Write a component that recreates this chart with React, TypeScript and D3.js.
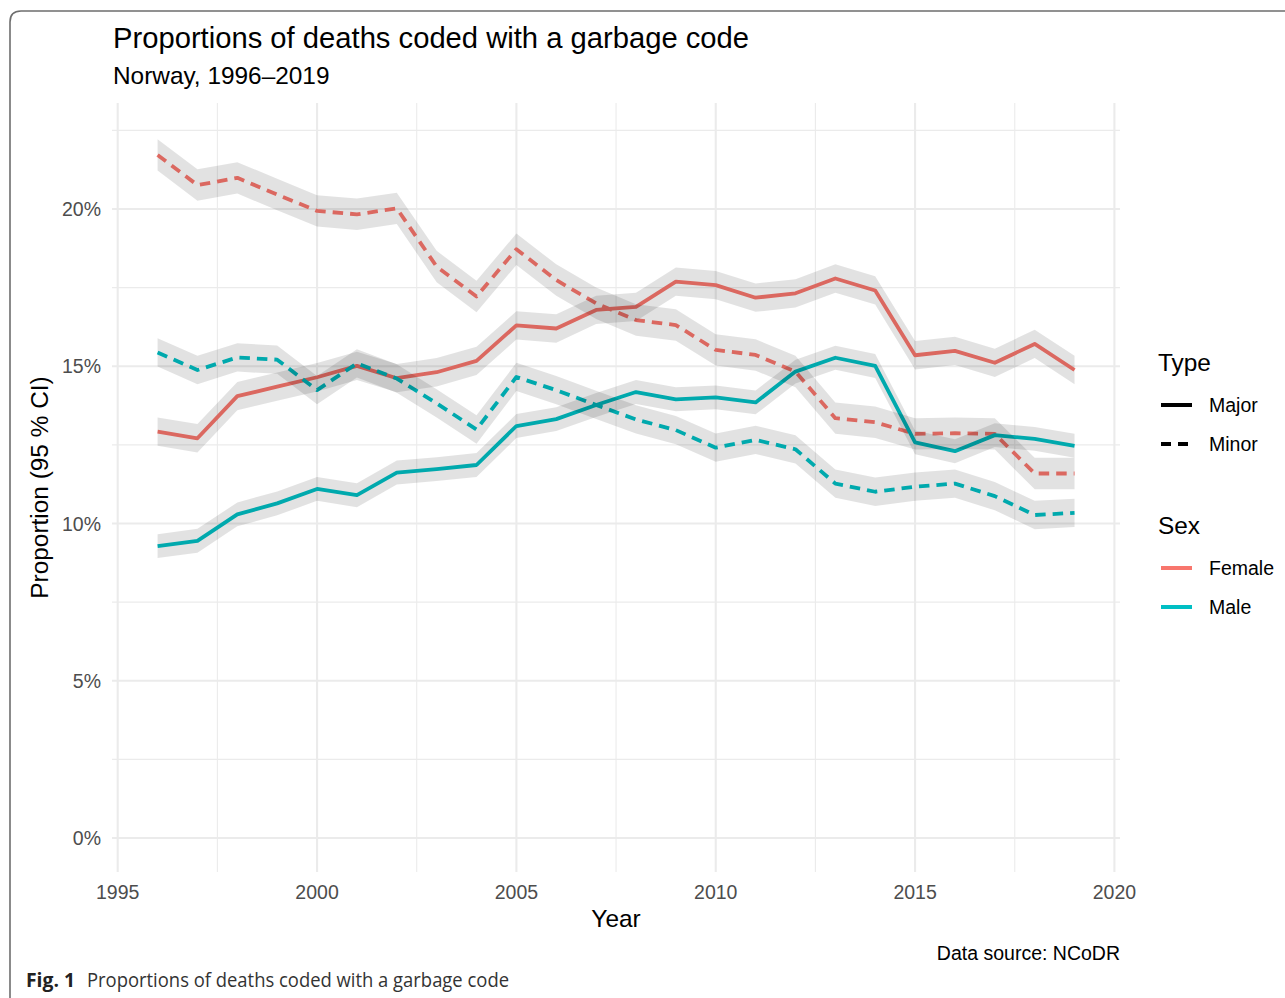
import React from "react";
import * as d3 from "d3";

const years = [1996, 1997, 1998, 1999, 2000, 2001, 2002, 2003, 2004, 2005, 2006, 2007, 2008, 2009, 2010, 2011, 2012, 2013, 2014, 2015, 2016, 2017, 2018, 2019];
const femaleMajor = [12.92, 12.71, 14.05, 14.35, 14.65, 15.01, 14.62, 14.81, 15.17, 16.30, 16.20, 16.79, 16.89, 17.69, 17.58, 17.18, 17.32, 17.79, 17.41, 15.35, 15.49, 15.11, 15.71, 14.88];
const femaleMinor = [21.72, 20.76, 20.99, 20.46, 19.94, 19.83, 20.02, 18.17, 17.22, 18.72, 17.74, 17.0, 16.47, 16.31, 15.52, 15.36, 14.83, 13.35, 13.22, 12.85, 12.87, 12.85, 11.59, 11.59];
const maleMajor = [9.28, 9.45, 10.29, 10.64, 11.10, 10.90, 11.62, 11.73, 11.86, 13.10, 13.32, 13.77, 14.18, 13.95, 14.01, 13.85, 14.83, 15.27, 15.01, 12.58, 12.30, 12.81, 12.69, 12.47];
const maleMinor = [15.44, 14.88, 15.28, 15.21, 14.24, 15.09, 14.61, 13.82, 12.99, 14.66, 14.24, 13.77, 13.31, 12.97, 12.41, 12.66, 12.36, 11.27, 11.01, 11.17, 11.27, 10.87, 10.27, 10.34];
// approximate 95% CI half-widths (percentage points) per series
const ciHalf = { femaleMajor: 0.45, femaleMinor: 0.5, maleMajor: 0.38, maleMinor: 0.45 };

const xTicks = [1995, 2000, 2005, 2010, 2015, 2020];
const xMinor = [1997.5, 2002.5, 2007.5, 2012.5, 2017.5];
const yTicks = [0, 5, 10, 15, 20];
const yMinor = [2.5, 7.5, 12.5, 17.5, 22.5];

const typeLabels = ["Major", "Minor"];
const sexLabels = ["Female", "Male"];
const sexColors = { Female: "#F8766D", Male: "#00BFC4" };

const series = [
  { key: "femaleMajor", sex: "Female", type: "Major", values: femaleMajor },
  { key: "femaleMinor", sex: "Female", type: "Minor", values: femaleMinor },
  { key: "maleMajor", sex: "Male", type: "Major", values: maleMajor },
  { key: "maleMinor", sex: "Male", type: "Minor", values: maleMinor },
];

const FONT = "'Liberation Sans', Arial, Helvetica, sans-serif";

export default function App() {
  const W = 1285, H = 998;
  const panel = { left: 112, right: 1120, top: 103, bottom: 872 };
  const x = d3.scaleLinear().domain([1994.857, 2020.14]).range([panel.left, panel.right]);
  const y = d3.scaleLinear().domain([-1.08, 23.37]).range([panel.bottom, panel.top]);

  const lineGen = d3.line<number>().x((_, i) => x(years[i])).y((d) => y(d));
  const areaGen = (hw: number) =>
    d3.area<number>().x((_, i) => x(years[i])).y0((d) => y(d - hw)).y1((d) => y(d + hw));

  const dash = "10.5,7";

  return (
    <div style={{ position: "absolute", left: 0, top: 0 }}>
      <svg width={W} height={H} style={{ display: "block", background: "#fff" }}>
        {/* figure frame */}
        <path d="M10,998 L10,22 Q10,11 21,11 L1285,11" fill="none" stroke="#6e6e6e" strokeWidth={1.6} />

        {/* grid */}
        {yMinor.map((v) => (
          <line key={"ym" + v} x1={panel.left} x2={panel.right} y1={y(v)} y2={y(v)} stroke="#ebebeb" strokeWidth={1.1} />
        ))}
        {xMinor.map((v) => (
          <line key={"xm" + v} x1={x(v)} x2={x(v)} y1={panel.top} y2={panel.bottom} stroke="#ebebeb" strokeWidth={1.1} />
        ))}
        {yTicks.map((v) => (
          <line key={"yM" + v} x1={panel.left} x2={panel.right} y1={y(v)} y2={y(v)} stroke="#ebebeb" strokeWidth={2.1} />
        ))}
        {xTicks.map((v) => (
          <line key={"xM" + v} x1={x(v)} x2={x(v)} y1={panel.top} y2={panel.bottom} stroke="#ebebeb" strokeWidth={2.1} />
        ))}

        {/* lines */}
        {series.map((s) => (
          <path
            key={"l" + s.key}
            d={lineGen(s.values) || ""}
            fill="none"
            stroke={sexColors[s.sex]}
            strokeWidth={3.8}
            strokeDasharray={s.type === "Minor" ? dash : undefined}
            strokeLinejoin="round"
          />
        ))}
        {/* CI ribbons */}
        {series.map((s) => (
          <path key={"r" + s.key} d={areaGen(ciHalf[s.key])(s.values) || ""} fill="#000" fillOpacity={0.115} stroke="none" />
        ))}

        {/* axes labels */}
        {xTicks.map((v) => (
          <text key={"xt" + v} x={x(v)} y={899} textAnchor="middle" fontFamily={FONT} fontSize={19.5} fill="#4d4d4d">
            {v}
          </text>
        ))}
        {yTicks.map((v) => (
          <text key={"yt" + v} x={101} y={y(v) + 7} textAnchor="end" fontFamily={FONT} fontSize={19.5} fill="#4d4d4d">
            {v + "%"}
          </text>
        ))}
        <text x={(panel.left + panel.right) / 2} y={927} textAnchor="middle" fontFamily={FONT} fontSize={24.4} fill="#000">
          Year
        </text>
        <text
          transform={`translate(48,${(panel.top + panel.bottom) / 2}) rotate(-90)`}
          textAnchor="middle"
          fontFamily={FONT}
          fontSize={24.4}
          fill="#000"
        >
          Proportion (95 % CI)
        </text>

        {/* titles */}
        <text x={113} y={48} fontFamily={FONT} fontSize={29.2} fill="#000">
          Proportions of deaths coded with a garbage code
        </text>
        <text x={113} y={84} fontFamily={FONT} fontSize={24.4} fill="#000">
          Norway, 1996–2019
        </text>
        <text x={1120} y={960} textAnchor="end" fontFamily={FONT} fontSize={19.5} fill="#000">
          Data source: NCoDR
        </text>

        {/* legend: Type */}
        <text x={1158} y={371} fontFamily={FONT} fontSize={24.4} fill="#000">Type</text>
        {typeLabels.map((t, i) => {
          const cy = 405 + i * 39;
          return (
            <g key={"lt" + t}>
              <line x1={1161} x2={1192} y1={cy} y2={cy} stroke="#000" strokeWidth={4}
                strokeDasharray={t === "Minor" ? "10,7" : undefined} />
              <text x={1209} y={cy + 7} fontFamily={FONT} fontSize={19.5} fill="#000">{t}</text>
            </g>
          );
        })}
        {/* legend: Sex */}
        <text x={1158} y={534} fontFamily={FONT} fontSize={24.4} fill="#000">Sex</text>
        {sexLabels.map((s, i) => {
          const cy = 568 + i * 39;
          return (
            <g key={"ls" + s}>
              <line x1={1161} x2={1192} y1={cy} y2={cy} stroke={sexColors[s]} strokeWidth={4} />
              <text x={1209} y={cy + 7} fontFamily={FONT} fontSize={19.5} fill="#000">{s}</text>
            </g>
          );
        })}

        {/* figure caption */}
        <text x={26} y={987} fontFamily="'Liberation Sans Narrow', 'Open Sans', sans-serif" fontSize={20} fontWeight="bold" fill="#222"
          textLength={49} lengthAdjust="spacingAndGlyphs">
          Fig. 1
        </text>
        <text x={87} y={987} fontFamily="'Liberation Sans Narrow', 'Open Sans', sans-serif" fontSize={20} fill="#333"
          textLength={422} lengthAdjust="spacingAndGlyphs">
          Proportions of deaths coded with a garbage code
        </text>
      </svg>
    </div>
  );
}
